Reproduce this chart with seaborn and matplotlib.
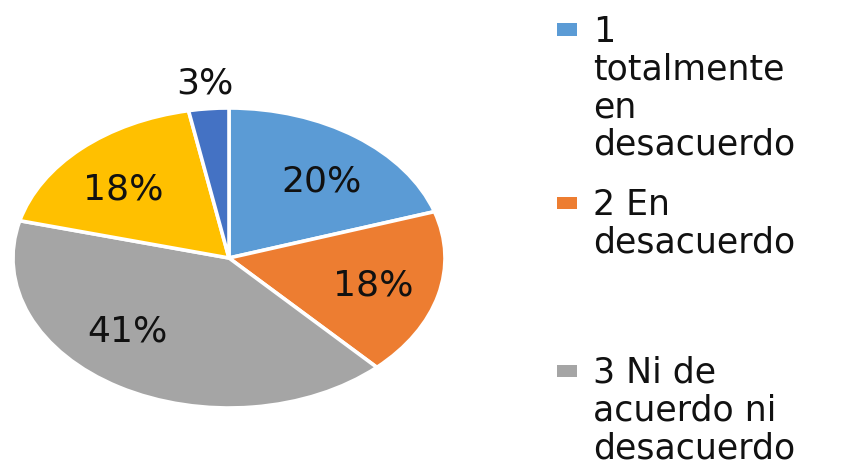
import matplotlib
matplotlib.use("Agg")
import matplotlib.pyplot as plt
import seaborn as sns
import numpy as np
from matplotlib.patches import Rectangle

# ---- data ----
categories = [
    "1\ntotalmente\nen\ndesacuerdo",
    "2 En\ndesacuerdo",
    "3 Ni de\nacuerdo ni\ndesacuerdo",
    "4 De acuerdo",
    "5 Totalmente\nde acuerdo",
]
values = [20, 18, 41, 18, 3]
pct_labels = ["20%", "18%", "41%", "18%", "3%"]
hex_colors = ["#5B9BD5", "#ED7D31", "#A5A5A5", "#FFC000", "#4472C4"]

# label placement tweaks (layout only)
label_angle_shift = [-4, -1, -13, 4, 0]
label_radius = [0.67, 0.695, 0.68, 0.67, 1.17]
legend_visible = 3  # reference crops the legend after the third entry

sns.set_theme(style="white")
plt.rcParams["font.family"] = ["DejaVu Sans"]
palette = sns.color_palette(hex_colors)

W, H = 860, 468
fig = plt.figure(figsize=(W / 100, H / 100), dpi=100)
fig.patch.set_facecolor("white")

# pie axes (elliptical, as in reference)
cx, cy, rx, ry = 229, 258, 216, 150
ax = fig.add_axes([(cx - rx) / W, (H - cy - ry) / H, 2 * rx / W, 2 * ry / H])
wedges, _ = ax.pie(
    values,
    colors=palette,
    startangle=90,
    counterclock=False,
    wedgeprops=dict(edgecolor="white", linewidth=2.6),
    normalize=True,
)
ax.set_aspect("auto")
ax.set_xlim(-1, 1)
ax.set_ylim(-1, 1)
ax.axis("off")

label_fs = 26
for w, lab, sh, r in zip(wedges, pct_labels, label_angle_shift, label_radius):
    mid = np.deg2rad((w.theta1 + w.theta2) / 2 + sh)
    ax.text(r * np.cos(mid), r * np.sin(mid), lab, ha="center", va="center",
            fontsize=label_fs, color="#111111")

# legend (Excel style, square aligned with first line)
leg_fs = 25
fs_px = leg_fs * 100 / 72
text_x = 593
sq_x0, sq_w, sq_h = 557, 20, 12
entry_baselines = [41, 214, 382]
for i in range(legend_visible):
    base = entry_baselines[i]
    top = base - 0.76 * fs_px
    fig.text(text_x / W, 1 - top / H, categories[i], ha="left", va="top",
             fontsize=leg_fs, color="#111111", linespacing=1.14)
    sq_cy = base - 11.5
    fig.add_artist(Rectangle((sq_x0 / W, 1 - (sq_cy + sq_h / 2) / H),
                             sq_w / W, sq_h / H, transform=fig.transFigure,
                             facecolor=palette[i], edgecolor="none"))

fig.savefig("out.png", dpi=100, facecolor="white")
